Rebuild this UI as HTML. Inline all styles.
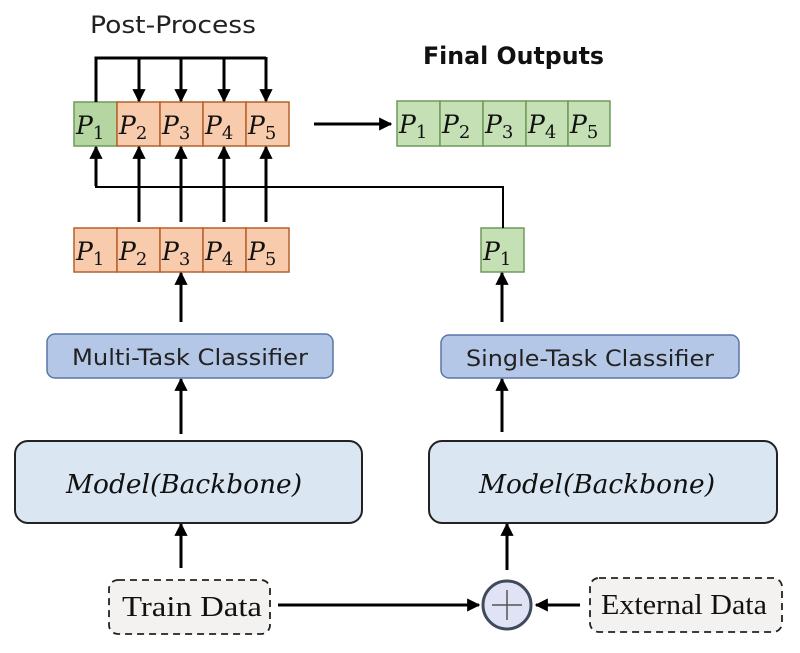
<!DOCTYPE html>
<html><head><meta charset="utf-8"><style>
html,body{margin:0;padding:0;background:#fff;}
svg{display:block}
.p{font-family:"DejaVu Serif","Liberation Serif",serif;font-style:italic;font-size:25px;fill:#111}
.sans{font-family:"DejaVu Sans","Liberation Sans",sans-serif;fill:#222}
</style></head><body>
<svg width="800" height="653" viewBox="0 0 800 653" xmlns="http://www.w3.org/2000/svg">
<defs>
<marker id="a" viewBox="0 0 10 10" refX="9" refY="5" markerWidth="4.6" markerHeight="4.4" orient="auto" markerUnits="strokeWidth">
<path d="M0,0 L10,5 L0,10 z" fill="#000"/></marker>
</defs>
<text x="90" y="33" class="sans" font-size="24" textLength="166" lengthAdjust="spacingAndGlyphs">Post-Process</text>
<text x="423" y="64" font-family="DejaVu Sans,Liberation Sans,sans-serif" font-weight="bold" font-size="24" fill="#111" textLength="181" lengthAdjust="spacingAndGlyphs">Final Outputs</text>

<rect x="74" y="102" width="43" height="44" fill="#b5d6a0" stroke="#6f9a5a" stroke-width="1.5"/>
<g fill="#f8cbad" stroke="#b5602a" stroke-width="1.5">
<rect x="117" y="102" width="43" height="44"/><rect x="160" y="102" width="43" height="44"/>
<rect x="203" y="102" width="43" height="44"/><rect x="246" y="102" width="43" height="44"/>
</g>
<g fill="#f8cbad" stroke="#b5602a" stroke-width="1.5">
<rect x="74" y="228" width="43" height="44"/><rect x="117" y="228" width="43" height="44"/>
<rect x="160" y="228" width="43" height="44"/><rect x="203" y="228" width="43" height="44"/>
<rect x="246" y="228" width="43" height="44"/>
</g>
<g fill="#c5e0b4" stroke="#6f9a5a" stroke-width="1.5">
<rect x="397" y="101" width="43" height="45"/><rect x="440" y="101" width="43" height="45"/>
<rect x="483" y="101" width="43" height="45"/><rect x="526" y="101" width="42" height="45"/>
<rect x="568" y="101" width="42" height="45"/>
</g>
<rect x="481" y="228" width="43" height="44" fill="#c5e0b4" stroke="#6f9a5a" stroke-width="1.5"/>

<g class="p">
<text x="76" y="134">P<tspan font-style="normal" font-size="18" dy="5">1</tspan></text>
<text x="119" y="134">P<tspan font-style="normal" font-size="18" dy="5">2</tspan></text>
<text x="162" y="134">P<tspan font-style="normal" font-size="18" dy="5">3</tspan></text>
<text x="205" y="134">P<tspan font-style="normal" font-size="18" dy="5">4</tspan></text>
<text x="248" y="134">P<tspan font-style="normal" font-size="18" dy="5">5</tspan></text>
<text x="76" y="260">P<tspan font-style="normal" font-size="18" dy="5">1</tspan></text>
<text x="119" y="260">P<tspan font-style="normal" font-size="18" dy="5">2</tspan></text>
<text x="162" y="260">P<tspan font-style="normal" font-size="18" dy="5">3</tspan></text>
<text x="205" y="260">P<tspan font-style="normal" font-size="18" dy="5">4</tspan></text>
<text x="248" y="260">P<tspan font-style="normal" font-size="18" dy="5">5</tspan></text>
<text x="399" y="133">P<tspan font-style="normal" font-size="18" dy="5">1</tspan></text>
<text x="442" y="133">P<tspan font-style="normal" font-size="18" dy="5">2</tspan></text>
<text x="485" y="133">P<tspan font-style="normal" font-size="18" dy="5">3</tspan></text>
<text x="528" y="133">P<tspan font-style="normal" font-size="18" dy="5">4</tspan></text>
<text x="570" y="133">P<tspan font-style="normal" font-size="18" dy="5">5</tspan></text>
<text x="483" y="260">P<tspan font-style="normal" font-size="18" dy="5">1</tspan></text>
</g>

<g stroke="#000" stroke-width="3" fill="none">
<polyline points="96,102 96,58 266,58"/>
<line x1="139" y1="58" x2="139" y2="101" marker-end="url(#a)"/>
<line x1="181" y1="58" x2="181" y2="101" marker-end="url(#a)"/>
<line x1="224" y1="58" x2="224" y2="101" marker-end="url(#a)"/>
<line x1="266" y1="57" x2="266" y2="101" marker-end="url(#a)"/>
<line x1="139" y1="222" x2="139" y2="147" marker-end="url(#a)"/>
<line x1="181" y1="222" x2="181" y2="147" marker-end="url(#a)"/>
<line x1="224" y1="222" x2="224" y2="147" marker-end="url(#a)"/>
<line x1="266" y1="222" x2="266" y2="147" marker-end="url(#a)"/>
<line x1="314" y1="124" x2="391" y2="124" marker-end="url(#a)"/>
<line x1="181" y1="322" x2="181" y2="273" marker-end="url(#a)"/>
<line x1="181" y1="434" x2="181" y2="379" marker-end="url(#a)"/>
<line x1="502" y1="322" x2="502" y2="273" marker-end="url(#a)"/>
<line x1="502" y1="432" x2="502" y2="379" marker-end="url(#a)"/>
<line x1="181" y1="568" x2="181" y2="524" marker-end="url(#a)"/>
<line x1="507" y1="570" x2="507" y2="524" marker-end="url(#a)"/>
<line x1="278" y1="605" x2="479" y2="605" marker-end="url(#a)"/>
<line x1="580" y1="605" x2="536" y2="605" marker-end="url(#a)"/>
</g>
<polyline points="96,161 96,187 503,187 503,228" stroke="#000" stroke-width="2" fill="none"/>
<line x1="96" y1="186" x2="96" y2="147" stroke="#000" stroke-width="3" marker-end="url(#a)"/>

<rect x="47" y="334" width="286" height="44" rx="8" fill="#b4c7e7" stroke="#5a75a8" stroke-width="1.5"/>
<text x="190" y="365" text-anchor="middle" class="sans" font-size="22" textLength="236" lengthAdjust="spacingAndGlyphs">Multi-Task Classifier</text>
<rect x="441" y="335" width="298" height="43" rx="8" fill="#b4c7e7" stroke="#5a75a8" stroke-width="1.5"/>
<text x="590" y="366" text-anchor="middle" class="sans" font-size="22" textLength="248" lengthAdjust="spacingAndGlyphs">Single-Task Classifier</text>

<rect x="15" y="441" width="347" height="82" rx="13" fill="#dae6f2" stroke="#222" stroke-width="2"/>
<text x="184" y="493" text-anchor="middle" font-family="DejaVu Serif,Liberation Serif,serif" font-style="italic" font-size="26" fill="#111" textLength="236" lengthAdjust="spacingAndGlyphs">Model(Backbone)</text>
<rect x="429" y="441" width="348" height="82" rx="13" fill="#dae6f2" stroke="#222" stroke-width="2"/>
<text x="597" y="493" text-anchor="middle" font-family="DejaVu Serif,Liberation Serif,serif" font-style="italic" font-size="26" fill="#111" textLength="236" lengthAdjust="spacingAndGlyphs">Model(Backbone)</text>

<rect x="109" y="580" width="161" height="54" rx="9" fill="#f4f1f1" stroke="#222" stroke-width="1.8" stroke-dasharray="7,5"/>
<text x="122" y="616" font-family="Liberation Serif,serif" font-size="28" fill="#111" textLength="140" lengthAdjust="spacingAndGlyphs">Train Data</text>
<rect x="590" y="578" width="192" height="54" rx="9" fill="#f4f1f1" stroke="#222" stroke-width="1.8" stroke-dasharray="7,5"/>
<text x="601" y="614" font-family="Liberation Serif,serif" font-size="28" fill="#111" textLength="166" lengthAdjust="spacingAndGlyphs">External Data</text>

<circle cx="507" cy="605" r="24" fill="#dfe3f5" stroke="#3f4b5a" stroke-width="3"/>
<line x1="492" y1="605" x2="522" y2="605" stroke="#555" stroke-width="1.5"/>
<line x1="507" y1="590" x2="507" y2="620" stroke="#555" stroke-width="1.5"/>
</svg>
</body></html>
